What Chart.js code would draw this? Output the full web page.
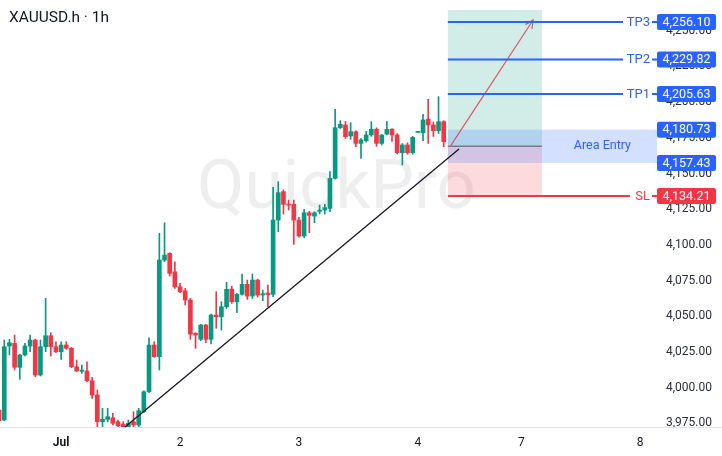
<!DOCTYPE html>
<html>
<head>
<meta charset="utf-8">
<title>XAUUSD.h 1h</title>
<script src="https://cdn.jsdelivr.net/npm/chart.js@4.4.1/dist/chart.umd.min.js"></script>
<style>
  html, body { margin: 0; padding: 0; background: #fff; }
  #wrap { position: relative; width: 722px; height: 456px; }
  #title {
    position: absolute; left: 9px; top: 8px;
    font: 15.5px Roboto, sans-serif; color: #131722;
  }
</style>
</head>
<body>
<div id="wrap">
  <canvas id="chart" width="722" height="456"></canvas>
  <div id="title">XAUUSD.h · 1h</div>
</div>
<script>
// hourly candles
const opens  = [3984.4, 3977.4, 4029.2, 4031.1, 4014.3, 4022.9, 4029.2, 4033.4, 4008.9, 4028.7,
                4036.4, 4028.7, 4025.2, 4029.9, 4027.6, 4014.7, 4011.5, 4011.7, 4004.9, 3994.9,
                3976.2, 3977.9, 3979.0, 3976.2, 3974.6, 3972.3, 3976.2, 3973.9, 3983.2, 3997.2,
                4029.9, 4021.7, 4089.4, 4094.1, 4081.2, 4070.7, 4067.9, 4061.4, 4038.1, 4033.9,
                4043.9, 4033.9, 4050.9, 4049.7, 4056.7, 4069.1, 4060.2, 4065.4, 4072.4, 4064.2,
                4075.4, 4064.9, 4066.3, 4065.4, 4117.4, 4137.3, 4128.6, 4128.4, 4117.4, 4106.2,
                4122.5, 4120.2, 4123.5, 4124.4, 4125.6, 4146.6, 4182.1, 4184.0, 4176.3, 4179.3,
                4171.1, 4173.0, 4177.0, 4181.0, 4171.1, 4177.6, 4181.0, 4177.0, 4164.6, 4170.0,
                4164.6, 4178.8, 4178.6, 4188.0, 4184.0, 4180.0, 4186.3];
const highs  = [3985.5, 4033.4, 4033.9, 4036.9, 4023.5, 4031.1, 4036.9, 4034.0, 4033.4, 4062.6,
                4038.5, 4032.2, 4032.2, 4032.2, 4028.3, 4019.4, 4015.9, 4018.2, 4007.3, 3998.4,
                3985.6, 3985.6, 3982.1, 3977.4, 3976.2, 3977.4, 3983.2, 3985.6, 3997.9, 4035.0,
                4032.2, 4108.1, 4115.5, 4094.5, 4088.2, 4073.1, 4069.6, 4062.6, 4038.5, 4044.4,
                4044.4, 4051.6, 4067.2, 4060.2, 4073.8, 4071.2, 4066.0, 4079.6, 4075.4, 4079.6,
                4076.0, 4068.4, 4071.9, 4140.3, 4144.3, 4138.5, 4131.4, 4131.4, 4119.3, 4124.9,
                4123.5, 4123.3, 4127.9, 4128.5, 4151.3, 4195.0, 4187.0, 4186.5, 4185.6, 4180.0,
                4174.5, 4179.5, 4186.3, 4182.0, 4177.5, 4186.3, 4181.5, 4178.0, 4171.0, 4171.5,
                4176.0, 4179.2, 4191.5, 4202.0, 4186.0, 4203.8, 4187.0];
const lows   = [3975.5, 3976.9, 4023.0, 4012.4, 4005.9, 4022.2, 4025.2, 4007.7, 4008.2, 4025.2,
                4022.2, 4024.5, 4019.9, 4026.9, 4014.0, 4011.2, 4010.1, 4004.2, 3992.6, 3972.7,
                3972.7, 3976.2, 3973.9, 3972.7, 3972.3, 3972.0, 3972.7, 3972.7, 3982.5, 3996.5,
                4021.3, 4012.4, 4088.2, 4078.2, 4069.6, 4066.5, 4057.9, 4033.9, 4027.6, 4032.9,
                4031.5, 4030.6, 4041.6, 4040.4, 4055.5, 4059.0, 4052.5, 4064.8, 4061.9, 4062.5,
                4063.5, 4060.9, 4056.7, 4063.7, 4109.2, 4121.6, 4124.4, 4100.4, 4105.5, 4105.0,
                4108.5, 4115.5, 4121.8, 4121.6, 4123.2, 4146.0, 4181.5, 4174.6, 4174.0, 4168.8,
                4160.6, 4172.0, 4176.0, 4169.0, 4170.0, 4177.0, 4172.5, 4163.7, 4156.0, 4163.5,
                4163.5, 4178.7, 4173.0, 4171.1, 4176.0, 4178.0, 4168.8];
const closes = [3976.9, 4028.7, 4031.5, 4014.3, 4022.9, 4029.2, 4033.4, 4008.9, 4028.7, 4036.4,
                4028.7, 4025.2, 4029.9, 4027.6, 4014.7, 4011.7, 4012.4, 4004.9, 3994.9, 3976.2,
                3977.9, 3979.7, 3975.1, 3973.4, 3972.7, 3975.1, 3973.9, 3983.9, 3997.2, 4029.9,
                4021.7, 4089.4, 4092.9, 4080.1, 4070.7, 4067.2, 4061.4, 4037.6, 4036.9, 4043.9,
                4033.9, 4050.9, 4049.7, 4056.7, 4068.9, 4060.2, 4065.4, 4072.4, 4064.2, 4075.4,
                4064.9, 4065.8, 4065.1, 4117.4, 4136.6, 4128.4, 4127.9, 4117.4, 4106.2, 4122.5,
                4120.7, 4122.5, 4124.4, 4126.1, 4146.6, 4182.1, 4184.5, 4175.8, 4179.3, 4171.1,
                4173.5, 4177.0, 4181.0, 4171.1, 4176.9, 4180.9, 4177.0, 4164.6, 4170.0, 4164.6,
                4175.3, 4179.1, 4187.5, 4184.0, 4180.0, 4186.3, 4172.3];

// x axis: candle index where each day starts
const dayTicks  = [12, 35, 58, 81, 101, 124];
const dayLabels = ['Jul', '2', '3', '4', '7', '8'];
const priceTicks = [3975, 4000, 4025, 4050, 4075, 4100, 4125, 4150, 4175, 4200, 4225, 4250];

// trade setup
const targetNames  = ['TP3', 'TP2', 'TP1'];
const targetPrices = [4256.10, 4229.82, 4205.63];
const entryTop = 4180.73;
const entryBottom = 4157.43;
const stopLoss = 4134.21;
const profitTop = 4264.5;
const setupStart = 86.8, setupEnd = 105;
const trendFrom = [24.35, 3972.5], trendTo = [88.96, 4167.2];
const arrowFrom = [87.2, 4168.6], arrowTo = [103.3, 4257.5];

const UP = '#089981', DOWN = '#f23645', BLUE = '#2962ff';
const candleColors = opens.map((o, i) => closes[i] >= o ? UP : DOWN);
const fmt = v => v.toLocaleString('en-US', { minimumFractionDigits: 2, maximumFractionDigits: 2 });

function roundRect(ctx, x, y, w, h, r) {
    ctx.beginPath();
    ctx.moveTo(x + r, y);
    ctx.arcTo(x + w, y, x + w, y + h, r);
    ctx.arcTo(x + w, y + h, x, y + h, r);
    ctx.arcTo(x, y + h, x, y, r);
    ctx.arcTo(x, y, x + w, y, r);
    ctx.closePath();
}

function priceBox(ctx, x, y, text, color) {
    ctx.fillStyle = color;
    roundRect(ctx, x, y - 8, 59, 16, 2);
    ctx.fill();
    ctx.fillStyle = '#fff';
    ctx.font = '12.5px Roboto, sans-serif';
    ctx.textAlign = 'center';
    ctx.textBaseline = 'middle';
    ctx.fillText(text, x + 29.5, y + 0.5);
}

const overlay = {
    id: 'overlay',
    beforeDatasetsDraw(chart) {
        const { ctx, chartArea: a, scales: { x, y } } = chart;
        ctx.save();
        // watermark
        ctx.font = '69px Roboto, sans-serif';
        ctx.fillStyle = 'rgba(120,123,134,0.13)';
        ctx.textBaseline = 'alphabetic';
        ctx.fillText('QuickPro', 197, 208);

        const x0 = x.getPixelForValue(setupStart);
        const x1 = x.getPixelForValue(setupEnd);
        const yMid = y.getPixelForValue((entryTop + entryBottom) / 2);
        const yTop = y.getPixelForValue(profitTop);
        const ySl = y.getPixelForValue(stopLoss);
        ctx.fillStyle = 'rgba(8,153,129,0.18)';
        ctx.fillRect(x0, yTop, x1 - x0, yMid - yTop);
        ctx.fillStyle = 'rgba(242,54,69,0.18)';
        ctx.fillRect(x0, yMid, x1 - x0, ySl - yMid);

        const yA = y.getPixelForValue(entryTop);
        const yB = y.getPixelForValue(entryBottom);
        ctx.fillStyle = 'rgba(41,98,255,0.2)';
        ctx.fillRect(x0, yA, a.right + 2 - x0, yB - yA);
        ctx.restore();
    },
    afterDraw(chart) {
        const { ctx, chartArea: a, scales: { x, y } } = chart;
        ctx.save();
        const x0 = x.getPixelForValue(setupStart);
        const x1 = x.getPixelForValue(setupEnd);

        // bottom axis line
        ctx.strokeStyle = '#e0e3eb';
        ctx.lineWidth = 1;
        ctx.beginPath();
        ctx.moveTo(0, Math.round(a.bottom) + 0.5);
        ctx.lineTo(chart.width, Math.round(a.bottom) + 0.5);
        ctx.stroke();

        // entry line
        const yMid = y.getPixelForValue((entryTop + entryBottom) / 2);
        ctx.strokeStyle = '#787b86';
        ctx.lineWidth = 1.5;
        ctx.beginPath();
        ctx.moveTo(x0, yMid);
        ctx.lineTo(x1, yMid);
        ctx.stroke();

        // trend line
        ctx.strokeStyle = '#131722';
        ctx.lineWidth = 1.3;
        ctx.beginPath();
        ctx.moveTo(x.getPixelForValue(trendFrom[0]), y.getPixelForValue(trendFrom[1]));
        ctx.lineTo(x.getPixelForValue(trendTo[0]), y.getPixelForValue(trendTo[1]));
        ctx.stroke();

        // arrow
        const ax0 = x.getPixelForValue(arrowFrom[0]), ay0 = y.getPixelForValue(arrowFrom[1]);
        const ax1 = x.getPixelForValue(arrowTo[0]), ay1 = y.getPixelForValue(arrowTo[1]);
        const ang = Math.atan2(ay1 - ay0, ax1 - ax0);
        ctx.strokeStyle = '#e0526a';
        ctx.lineWidth = 1.2;
        ctx.beginPath();
        ctx.moveTo(ax0, ay0);
        ctx.lineTo(ax1, ay1);
        ctx.moveTo(ax1 - 9 * Math.cos(ang - 0.45), ay1 - 9 * Math.sin(ang - 0.45));
        ctx.lineTo(ax1, ay1);
        ctx.lineTo(ax1 - 9 * Math.cos(ang + 0.45), ay1 - 9 * Math.sin(ang + 0.45));
        ctx.stroke();

        // take profit lines
        targetPrices.forEach((p, k) => {
            const py = y.getPixelForValue(p);
            ctx.strokeStyle = BLUE;
            ctx.lineWidth = 2;
            ctx.beginPath();
            ctx.moveTo(x0, py);
            ctx.lineTo(a.right - 32, py);
            ctx.moveTo(a.right - 3, py);
            ctx.lineTo(a.right + 2, py);
            ctx.stroke();
            ctx.fillStyle = BLUE;
            ctx.textAlign = 'right';
            ctx.font = '13px Roboto, sans-serif';
            ctx.textBaseline = 'middle';
            ctx.fillText(targetNames[k], a.right - 5, py + 0.5);
            priceBox(ctx, a.right + 2, py, fmt(p), BLUE);
        });

        // stop loss
        const ys = y.getPixelForValue(stopLoss);
        ctx.strokeStyle = DOWN;
        ctx.lineWidth = 2;
        ctx.beginPath();
        ctx.moveTo(x0, ys);
        ctx.lineTo(a.right - 25, ys);
        ctx.moveTo(a.right - 3, ys);
        ctx.lineTo(a.right + 2, ys);
        ctx.stroke();
        ctx.fillStyle = DOWN;
        ctx.textAlign = 'right';
        ctx.font = '13px Roboto, sans-serif';
        ctx.textBaseline = 'middle';
        ctx.fillText('SL', a.right - 5, ys + 0.5);
        priceBox(ctx, a.right + 2, ys, fmt(stopLoss), DOWN);

        // entry area
        const yA = y.getPixelForValue(entryTop);
        const yB = y.getPixelForValue(entryBottom);
        ctx.fillStyle = BLUE;
        ctx.font = '12.5px Roboto, sans-serif';
        ctx.textAlign = 'right';
        ctx.textBaseline = 'middle';
        ctx.fillText('Area Entry', a.right - 24, (yA + yB) / 2);
        priceBox(ctx, a.right + 2, yA, fmt(entryTop), BLUE);
        priceBox(ctx, a.right + 2, yB, fmt(entryBottom), BLUE);
        ctx.restore();
    }
};

const idx = opens.map((_, i) => i);

new Chart(document.getElementById('chart'), {
    type: 'bar',
    data: {
        datasets: [{
            label: 'body',
            data: idx.map(i => ({ x: i, y: [opens[i], closes[i]] })),
            backgroundColor: candleColors,
            barThickness: 4,
            minBarLength: 1,
            grouped: false
        }, {
            label: 'wick',
            data: idx.map(i => ({ x: i, y: [lows[i], highs[i]] })),
            backgroundColor: candleColors,
            barThickness: 1,
            grouped: false
        }]
    },
    options: {
        responsive: false,
        devicePixelRatio: 1,
        animation: false,
        layout: { padding: 0 },
        plugins: { legend: { display: false }, tooltip: { enabled: false } },
        scales: {
            x: {
                type: 'linear',
                min: 0.174,
                max: 126.87,
                offset: false,
                grid: { display: false, drawTicks: false },
                border: { display: false },
                afterBuildTicks: s => { s.ticks = dayTicks.map(v => ({ value: v })); },
                afterFit: s => { s.height = 29; s.paddingLeft = 0; s.paddingRight = 0; },
                ticks: {
                    autoSkip: false,
                    maxRotation: 0,
                    padding: 9,
                    color: '#131722',
                    font: c => ({ family: 'Roboto', size: 12, weight: c.tick && c.tick.value === 12 ? 'bold' : 'normal' }),
                    callback: v => dayLabels[dayTicks.indexOf(v)]
                }
            },
            y: {
                position: 'right',
                min: 3972.5,
                max: 4271.5,
                grid: { display: false, drawTicks: false },
                border: { display: false },
                afterBuildTicks: s => { s.ticks = priceTicks.map(v => ({ value: v })); },
                afterFit: s => { s.width = 67; s.paddingTop = 0; s.paddingBottom = 0; },
                ticks: {
                    padding: 11,
                    color: '#2a2e39',
                    font: { family: 'Roboto', size: 12 },
                    callback: v => fmt(v)
                }
            }
        }
    },
    plugins: [overlay]
});
</script>
</body>
</html>
